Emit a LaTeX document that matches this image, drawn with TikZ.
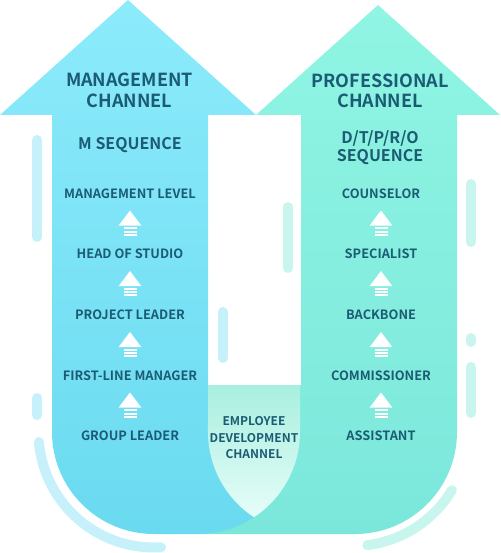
\documentclass[tikz,border=0pt]{standalone}
\usepackage{fontspec}
\setmainfont{Noto Sans CJK SC}[BoldFont={Noto Sans CJK SC Bold}]
\usetikzlibrary{calc}
\definecolor{txt}{HTML}{1B5B73}
\definecolor{bluetop}{HTML}{8CEBFB}
\definecolor{bluebot}{HTML}{6ADAF0}
\definecolor{greentop}{HTML}{90F5E3}
\definecolor{greenbot}{HTML}{7BE7DB}
\definecolor{shieldtop}{HTML}{A8EFDF}
\definecolor{shieldbot}{HTML}{E6FDF8}
\definecolor{decoblue}{HTML}{C6F1FB}
\definecolor{decogreen}{HTML}{C8F6EE}
\tikzset{
  title/.style={text=txt,font=\bfseries\fontsize{18}{20.5}\selectfont,align=center,inner sep=0pt},
  seqlabel/.style={text=txt,font=\bfseries\fontsize{16}{18}\selectfont,align=center,inner sep=0pt},
  level/.style={text=txt,font=\bfseries\fontsize{12.8}{15}\selectfont,align=center,inner sep=0pt},
  shieldtext/.style={text=txt,font=\bfseries\fontsize{12}{16.5}\selectfont,align=center,inner sep=0pt},
  decob/.style={draw=decoblue,line width=10pt,line cap=round},
  decog/.style={draw=decogreen,line width=10pt,line cap=round},
  uparrow/.pic={
    \fill[white] (-11.3,2.5) -- (0,-12.5) -- (11.3,2.5) -- cycle;
    \fill[white] (-6.5,4.3) rectangle (6.5,6.3);
    \fill[white] (-6.5,7.5) rectangle (6.5,9.5);
    \fill[white] (-6.5,10.7) rectangle (6.5,12.7);
  }
}
\begin{document}
\begin{tikzpicture}[x=1pt,y=-1pt]
\useasboundingbox (0,0) rectangle (500,553);
% green arrow
\shade[top color=greentop,bottom color=greenbot]
  (256,115) -- (378,5) -- (500,115) -- (457,115) -- (457,432)
  arc[start angle=0,end angle=90,radius=102] -- (198,534) -- (198,385)
  -- (301,385) -- (301,115) -- cycle;
% blue arrow
\shade[top color=bluetop,bottom color=bluebot]
  (0,115) -- (128,0) -- (256,115) -- (208,115) -- (208,385) -- (300,385)
  -- (300,432) arc[start angle=0,end angle=90,radius=102] -- (154,534)
  arc[start angle=90,end angle=180,radius=102] -- (52,115) -- cycle;
% shield (overlap)
\shade[top color=shieldtop,bottom color=shieldbot]
  (208,385) -- (300,385) -- (300,432)
  arc[start angle=0,end angle=56.7,radius=102]
  arc[start angle=123.3,end angle=180,radius=102] -- cycle;
% decorations
\draw[decob] (37,140) -- (37,237);
\draw[decob] (37,398) -- (37,415);
\draw[decob] (154,432) ++(175:115.5) arc[start angle=175,end angle=86.5,radius=115.5];
\draw[decob] (223,312) -- (223,358);
\draw[decog] (288,207) -- (288,268);
\draw[decog] (471,184) -- (471,242);
\draw[decog] (471,338) -- (471,342);
\draw[decog] (471,367) -- (471,413);
\draw[decog] (355,432) ++(31:113) arc[start angle=31,end angle=83,radius=115];
% titles
\node[title] (mtitle) at (129.5,90.5) {MANAGEMENT\\CHANNEL};
\node[title] (ptitle) at (380,91) {PROFESSIONAL\\CHANNEL};
\node[seqlabel] (mseq) at (130,145) {M SEQUENCE};
\node[seqlabel] (pseq) at (380,148) {D/T/P/R/O\\SEQUENCE};
% left levels
\node[level] (l1) at (130,194) {MANAGEMENT LEVEL};
\node[level] (l2) at (130,254) {HEAD OF STUDIO};
\node[level] (l3) at (130,315) {PROJECT LEADER};
\node[level] (l4) at (130,376) {FIRST-LINE MANAGER};
\node[level] (l5) at (130,436) {GROUP LEADER};
% right levels
\node[level] (r1) at (381,194) {COUNSELOR};
\node[level] (r2) at (381,254) {SPECIALIST};
\node[level] (r3) at (381,315) {BACKBONE};
\node[level] (r4) at (381,376) {COMMISSIONER};
\node[level] (r5) at (381,436) {ASSISTANT};
% arrow icons
\foreach \a/\b in {l1/l2,l2/l3,l3/l4,l4/l5,r1/r2,r2/r3,r3/r4,r4/r5}
  \pic at ($(\a)!.5!(\b)+(0,-1)$) {uparrow};
% shield text
\node[shieldtext] (emp) at (254,438) {EMPLOYEE\\DEVELOPMENT\\CHANNEL};
\end{tikzpicture}
\end{document}
